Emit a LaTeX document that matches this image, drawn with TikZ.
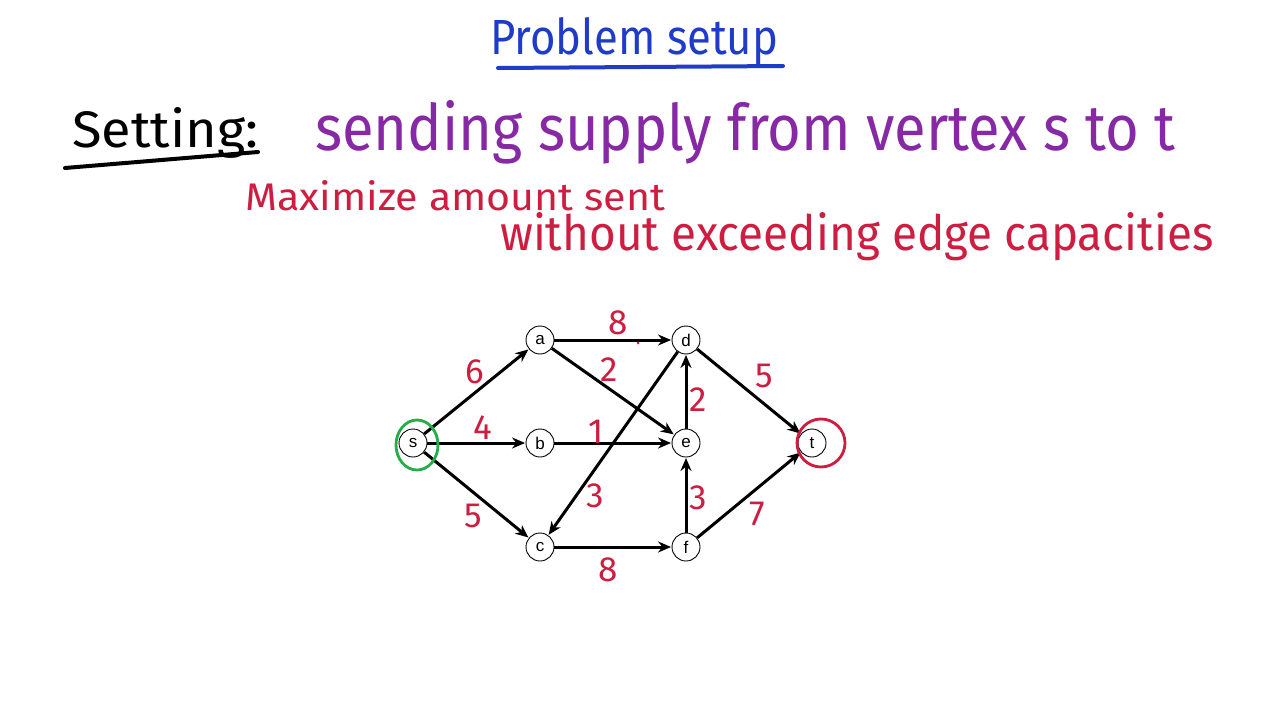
\documentclass[tikz,border=0pt]{standalone}
\usepackage{graphicx}
\usepackage{fontspec}
\setmainfont{Liberation Sans}
\newfontfamily\handfont{Fira Sans}
\usetikzlibrary{arrows.meta}
\definecolor{tblue}{RGB}{30,60,200}
\definecolor{tpurple}{RGB}{135,40,165}
\definecolor{tred}{RGB}{205,30,65}
\definecolor{tgreen}{RGB}{35,175,70}
\tikzset{
  vert/.style={circle, draw=black, line width=0.9pt, fill=white, minimum size=28pt, inner sep=0pt, font=\fontsize{17}{17}\selectfont},
  edge/.style={line width=3pt, -{Stealth[length=13pt,width=11pt]}, shorten >=0.5pt},
  capl/.style={text=tred, inner sep=0pt, font=\handfont\fontsize{35}{35}\selectfont},
  hw/.style={anchor=base west, inner sep=0pt}
}
\begin{document}
\begin{tikzpicture}[x=1pt,y=-1pt]
\useasboundingbox[fill=white] (0,0) rectangle (1280,717);

% title
\node[hw, text=tblue] (title) at (490,55) {\resizebox{288pt}{37pt}{\handfont Problem setup}};
\draw[tblue, line width=4pt, line cap=round] (498,68) -- (783,66);

% setting
\node[hw, text=black] (setting) at (72,147) {\resizebox{186pt}{40pt}{\handfont Setting:}};
\draw[black, line width=4pt, line cap=round] (65,168) -- (258,152);
\node[hw, text=tpurple] (sending) at (315,150) {\resizebox{860pt}{50pt}{\handfont sending supply from vertex s to t}};
\node[hw, text=tred] (maxi) at (245,210) {\resizebox{420pt}{30pt}{\handfont Maximize amount sent}};
\node[hw, text=tred] (without) at (500,250) {\resizebox{713pt}{38pt}{\handfont without exceeding edge capacities}};

% graph
\node[vert] (s) at (413,443) {s};
\node[vert] (a) at (540,340) {a};
\node[vert] (b) at (540,443) {b};
\node[vert] (c) at (540,547) {c};
\node[vert] (d) at (686,340) {d};
\node[vert] (e) at (686,443) {e};
\node[vert] (f) at (686,547) {f};
\node[vert] (t) at (812,443) {t};

\draw[edge] (s) -- (a);
\draw[edge] (s) -- (b);
\draw[edge] (s) -- (c);
\draw[edge] (a) -- (d);
\draw[edge] (a) -- (e);
\draw[edge] (b) -- (e);
\draw[edge] (d) -- (c);
\draw[edge] (e) -- (d);
\draw[edge] (f) -- (e);
\draw[edge] (c) -- (f);
\draw[edge] (d) -- (t);
\draw[edge] (f) -- (t);

% capacities
\node[capl] (l6) at (475,372) {6};
\node[capl] (l4) at (483,428) {4};
\node[capl] (l5a) at (473,516) {5};
\node[capl] (l8a) at (618,323) {8};
\node[capl] (l2a) at (609,370) {2};
\node[capl] (l1) at (596,432) {1};
\node[capl] (l3a) at (595,496) {3};
\node[capl] (l2b) at (698,400) {2};
\node[capl] (l3b) at (698,498) {3};
\node[capl] (l5b) at (764,376) {5};
\node[capl] (l7) at (757,514) {7};
\node[capl] (l8b) at (608,570) {8};
\fill[tred] (638,343) circle (1.5pt);

% highlight circles
\draw[tgreen, line width=2.8pt] (417,445) ellipse (21pt and 25pt);
\draw[tred, line width=2.8pt] (821,443) ellipse (24pt and 24pt);
\end{tikzpicture}
\end{document}
